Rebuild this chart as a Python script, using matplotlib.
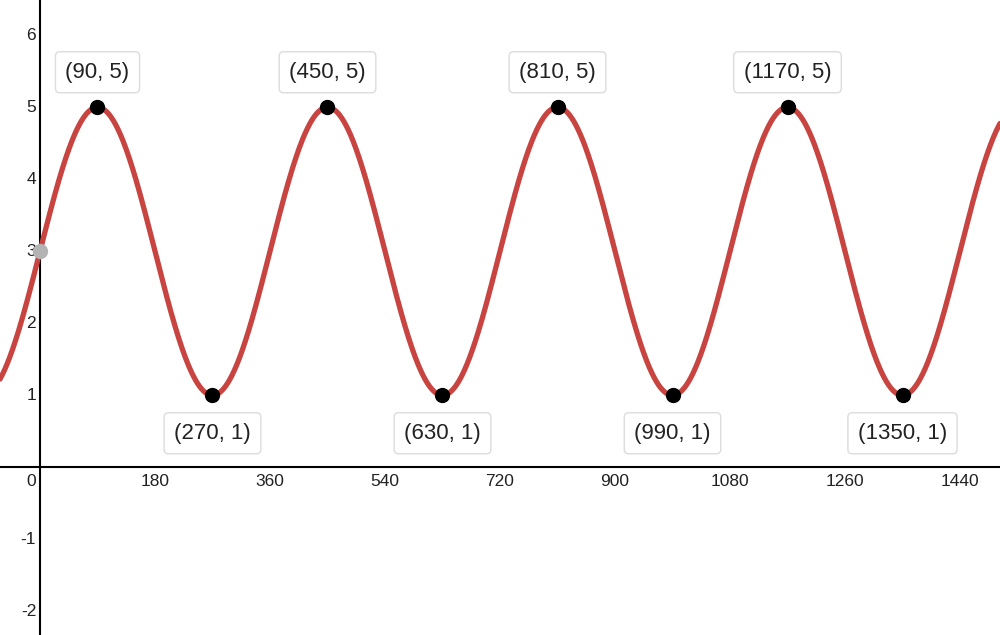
import numpy as np
import matplotlib
matplotlib.use("Agg")
import matplotlib.pyplot as plt

plt.rcParams['font.family'] = ['Liberation Sans', 'DejaVu Sans']

# curve y = midline + amplitude * sin(x deg)
midline = 3
amplitude = 2
period = 360

# labelled extrema
max_x = [90, 450, 810, 1170]
max_y = [5, 5, 5, 5]
min_x = [270, 630, 990, 1350]
min_y = [1, 1, 1, 1]

# y-intercept
icept_x = [0]
icept_y = [3]

xticks = [180, 360, 540, 720, 900, 1080, 1260, 1440]
yticks = [-2, -1, 1, 2, 3, 4, 5, 6]

fig = plt.figure(figsize=(10, 6.35), dpi=100)
ax = fig.add_axes([0, 0, 1, 1])
ax.set_xlim(-62.6, 1502.6)
ax.set_ylim(-2.33, 6.49)
ax.axis('off')

# axes lines
ax.axhline(0, color='black', lw=1.5, zorder=1)
ax.axvline(0, color='black', lw=1.5, zorder=1)

x = np.linspace(-62.6, 1502.6, 2000)
y = midline + amplitude * np.sin(np.radians(x * 360 / period))
ax.plot(x, y, color='#c74440', lw=3.8, zorder=2, solid_capstyle='round')

ax.plot(max_x + min_x, max_y + min_y, 'o', color='black', ms=10, zorder=4)
ax.plot(icept_x, icept_y, 'o', color='#b3b3b3', ms=10, zorder=4)

# tick labels
for t in xticks:
    ax.text(t, -0.1, str(t), ha='center', va='top', fontsize=12.5, color='#222222')
ax.text(-6, -0.1, '0', ha='right', va='top', fontsize=12.5, color='#222222')
for t in yticks:
    ax.text(-6, t, str(t), ha='right', va='center', fontsize=12.5, color='#222222')

box = dict(boxstyle='round,pad=0.45,rounding_size=0.2', fc='white', ec='#dcdcdc', lw=1)
for px, py in zip(max_x, max_y):
    ax.annotate(f'({px}, {py})', (px, py), xytext=(0, 35), textcoords='offset pixels',
                ha='center', va='center', fontsize=16, color='#222222', bbox=box, zorder=5)
for px, py in zip(min_x, min_y):
    ax.annotate(f'({px}, {py})', (px, py), xytext=(0, -38), textcoords='offset pixels',
                ha='center', va='center', fontsize=16, color='#222222', bbox=box, zorder=5)

fig.savefig('out.png', dpi=100)
